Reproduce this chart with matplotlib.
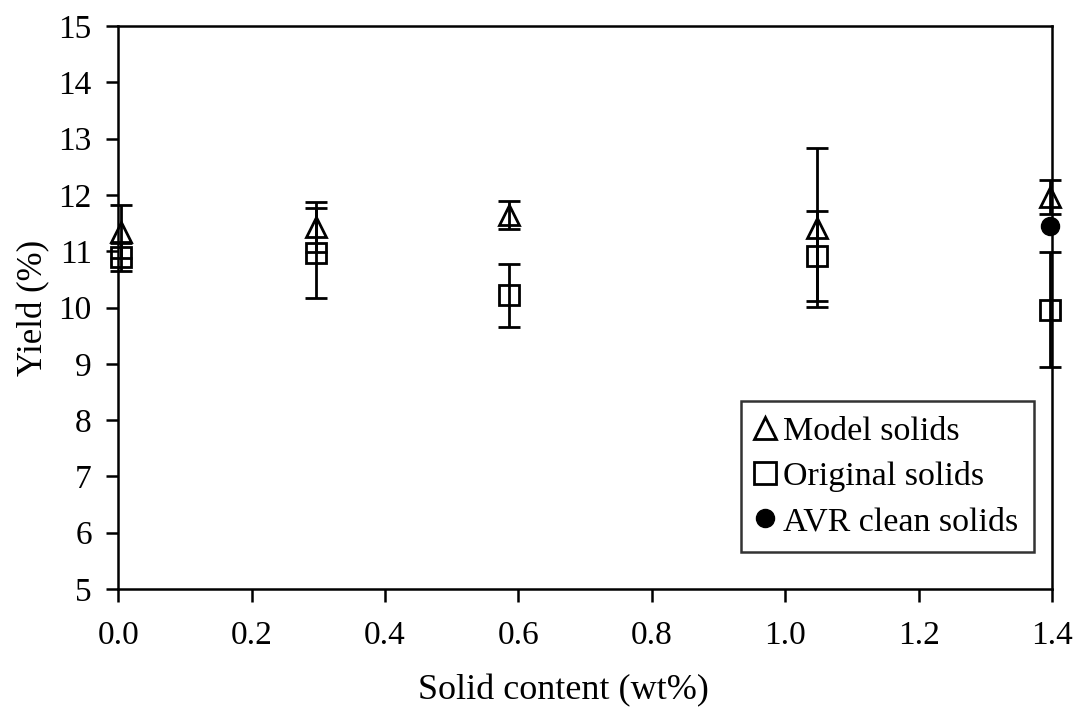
import matplotlib
matplotlib.use('Agg')
import matplotlib.pyplot as plt
from matplotlib.lines import Line2D

plt.rcParams['font.family'] = ['Liberation Serif', 'DejaVu Serif']

# data
model_x = [0.005, 0.296, 0.586, 1.048, 1.397]
model_y = [11.35, 11.43, 11.65, 11.42, 11.96]
model_err = [0.47, 0.44, 0.25, 1.41, 0.30]

orig_x = [0.005, 0.296, 0.586, 1.048, 1.397]
orig_y = [10.90, 10.97, 10.22, 10.92, 9.96]
orig_err = [0.25, 0.80, 0.56, 0.80, 1.02]

avr_x = [1.397]
avr_y = [11.45]

fig = plt.figure(figsize=(10.74, 7.11), dpi=100)
ax = fig.add_axes([0.11, 0.1716, 0.8695, 0.7918])

err_kw = dict(ecolor='black', elinewidth=2.0, capsize=8, capthick=2.2,
              linestyle='none', markeredgecolor='black', markeredgewidth=2.0,
              markerfacecolor='none', clip_on=False)

e1 = ax.errorbar(orig_x, orig_y, yerr=orig_err, marker='s', markersize=15, **err_kw)
e2 = ax.errorbar(model_x, model_y, yerr=model_err, marker='^', markersize=15, **err_kw)
for e in (e1, e2):
    for art in e.lines[1] + e.lines[2]:
        art.set_clip_on(False)
ax.plot(avr_x, avr_y, linestyle='none', marker='o', markersize=13,
        color='black', clip_on=False)

ax.set_xlim(0, 1.4)
ax.set_ylim(5, 15)
ax.set_xticks([0.0, 0.2, 0.4, 0.6, 0.8, 1.0, 1.2, 1.4])
ax.set_xticklabels(['0.0', '0.2', '0.4', '0.6', '0.8', '1.0', '1.2', '1.4'])
ax.set_yticks(range(5, 16))
ax.tick_params(direction='out', length=9, width=1.8, labelsize=24, colors='black')
ax.tick_params(axis='x', pad=14)
ax.tick_params(axis='y', pad=10)
for s in ax.spines.values():
    s.set_linewidth(1.8)
    s.set_color('black')

ax.set_xlabel('Solid content (wt%)', fontsize=26)
ax.xaxis.set_label_coords(0.477, -0.152)
ax.set_ylabel('Yield (%)', fontsize=25, labelpad=6)

handles = [
    Line2D([], [], linestyle='none', marker='^', markersize=16,
           markerfacecolor='none', markeredgecolor='black', markeredgewidth=2.0),
    Line2D([], [], linestyle='none', marker='s', markersize=16,
           markerfacecolor='none', markeredgecolor='black', markeredgewidth=2.0),
    Line2D([], [], linestyle='none', marker='o', markersize=13, color='black'),
]
leg = ax.legend(handles, ['Model solids', 'Original solids', 'AVR clean solids'],
                loc='lower right', bbox_to_anchor=(0.9805, 0.065),
                fontsize=24.5, frameon=True, fancybox=False, edgecolor='black',
                handlelength=0.55, handletextpad=0.25, borderpad=0.45,
                labelspacing=0.42, borderaxespad=0)
leg.get_frame().set_linewidth(1.8)

fig.savefig('out.png', dpi=100)
